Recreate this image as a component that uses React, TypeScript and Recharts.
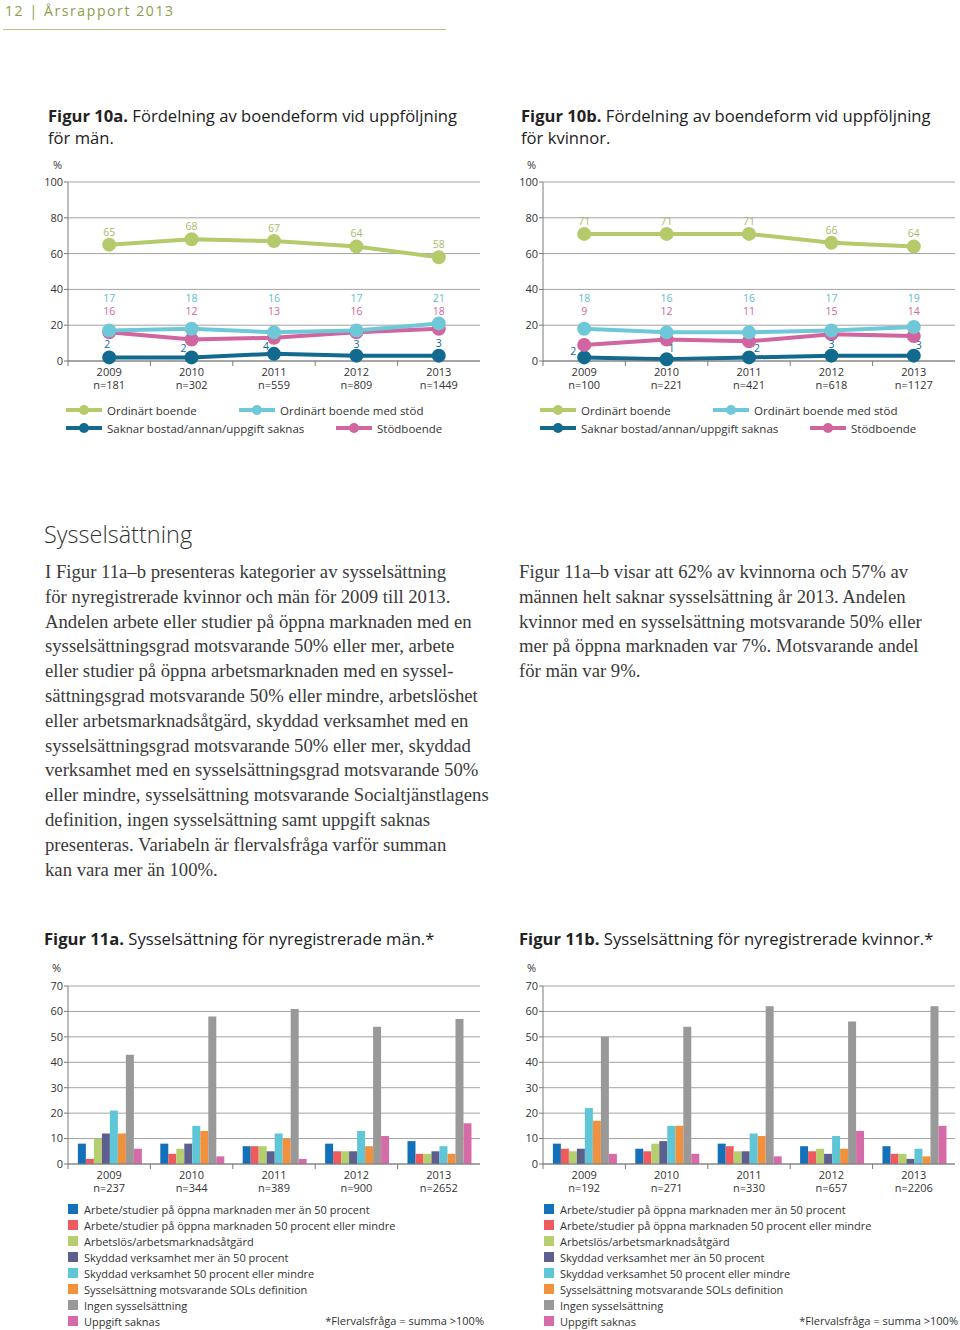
import React from 'react';
import { LineChart, Line, BarChart, Bar, XAxis, YAxis, CartesianGrid, LabelList } from 'recharts';

// ---- data ----
const years = ['2009', '2010', '2011', '2012', '2013'];

// Figur 10 – boendeform
const menLineN = [181, 302, 559, 809, 1449];
const womenLineN = [100, 221, 421, 618, 1127];

const menOrdinart = [65, 68, 67, 64, 58];
const menOrdinartStod = [17, 18, 16, 17, 21];
const menStodboende = [16, 12, 13, 16, 18];
const menSaknar = [2, 2, 4, 3, 3];

const womenOrdinart = [71, 71, 71, 66, 64];
const womenOrdinartStod = [18, 16, 16, 17, 19];
const womenStodboende = [9, 12, 11, 15, 14];
const womenSaknar = [2, 1, 2, 3, 3];

const boendeTicks = [0, 20, 40, 60, 80, 100];

// Figur 11 – sysselsättning
const menBarN = [237, 344, 389, 900, 2652];
const womenBarN = [192, 271, 330, 657, 2206];

const menArbMer = [8, 8, 7, 8, 9];
const menArbMindre = [2, 4, 7, 5, 4];
const menArbetslos = [10, 6, 7, 5, 4];
const menSkyddMer = [12, 8, 5, 5, 5];
const menSkyddMindre = [21, 15, 12, 13, 7];
const menSol = [12, 13, 10, 7, 4];
const menIngen = [43, 58, 61, 54, 57];
const menSaknas = [6, 3, 2, 11, 16];

const womenArbMer = [8, 6, 8, 7, 7];
const womenArbMindre = [6, 5, 7, 5, 4];
const womenArbetslos = [5, 8, 5, 6, 4];
const womenSkyddMer = [6, 9, 5, 4, 2];
const womenSkyddMindre = [22, 15, 12, 11, 6];
const womenSol = [17, 15, 11, 6, 3];
const womenIngen = [50, 54, 62, 56, 62];
const womenSaknas = [4, 4, 3, 13, 15];

const sysTicks = [0, 10, 20, 30, 40, 50, 60, 70];

const boendeLabels = ['Ordinärt boende', 'Ordinärt boende med stöd', 'Saknar bostad/annan/uppgift saknas', 'Stödboende'];
const sysLabels = [
  'Arbete/studier på öppna marknaden mer än 50 procent',
  'Arbete/studier på öppna marknaden 50 procent eller mindre',
  'Arbetslös/arbetsmarknadsåtgärd',
  'Skyddad verksamhet mer än 50 procent',
  'Skyddad verksamhet 50 procent eller mindre',
  'Sysselsättning motsvarande SOLs definition',
  'Ingen sysselsättning',
  'Uppgift saknas',
];

// ---- styles ----
const C = {
  green: '#b5ca6b',
  greenLabel: '#a9b96c',
  cyan: '#6fc8d8',
  cyanLabel: '#5dbdcd',
  blue: '#136a8f',
  pink: '#d0659f',
  grid: '#a3a3a3',
  axis: '#7a7a7a',
  text: '#333',
};
const barColors = ['#1470b8', '#ef5a5e', '#b6cf6e', '#5d5f8f', '#5fc6d7', '#f1913d', '#999999', '#d56ba7'];
const sans = '"Open Sans", "Noto Sans", sans-serif';
const serif = '"Liberation Serif", serif';

const LINE_TOP = 170;
const BAR_TOP = 975;
const CYAN_LABEL_Y = 302 - LINE_TOP;
const PINK_LABEL_Y = 315 - LINE_TOP;
const menDarkOffsets = [[-2, -13], [-8, -9], [-8, -8], [0, -12], [0, -13]];
const womenDarkOffsets = [[-11, -6], [5, -11], [8, -9], [0, -12], [5, -11]];

const boendeData = (ord: number[], ordStod: number[], stod: number[], saknar: number[]) =>
  years.map((year, i) => ({ year, ord: ord[i], ordStod: ordStod[i], stod: stod[i], saknar: saknar[i] }));

const sysData = (series: number[][]) =>
  years.map((year, i) => {
    const row: any = { year };
    series.forEach((s, k) => (row['s' + k] = s[i]));
    return row;
  });

const YearTick = (props: any) => {
  const { x, y, payload, index, nList, band } = props;
  return (
    <g>
      <line x1={x - band / 2} x2={x - band / 2} y1={y} y2={y + 5} stroke={C.axis} />
      <text x={x} y={y + 15} textAnchor="middle" fontSize={11} fill={C.text} fontFamily={sans}>
        {payload.value}
      </text>
      <text x={x} y={y + 28} textAnchor="middle" fontSize={11} fill={C.text} fontFamily={sans}>
        n={nList[index]}
      </text>
    </g>
  );
};

const px = (p: any) => (p.x ?? p.viewBox?.x) as number;
const py = (p: any) => (p.y ?? p.viewBox?.y) as number;

function BoendeChart({ data, nList, darkOffsets }: { data: any[]; nList: number[]; darkOffsets: number[][] }) {
  const band = 412 / 5;
  return (
    <LineChart width={455} height={230} data={data} margin={{ top: 12, right: 5, bottom: 0, left: 0 }}>
      <CartesianGrid vertical={false} stroke={C.grid} />
      <XAxis
        dataKey="year"
        height={39}
        tickLine={false}
        tickSize={0}
        tickMargin={0}
        interval={0}
        axisLine={{ stroke: C.axis }}
        padding={{ left: band / 2, right: band / 2 }}
        tick={<YearTick band={band} nList={nList} />}
      />
      <YAxis
        domain={[0, 100]}
        ticks={boendeTicks}
        width={38}
        tickSize={4}
        tickMargin={1}
        axisLine={{ stroke: C.axis }}
        tickLine={{ stroke: C.axis }}
        tick={{ fontSize: 11, fill: C.text, fontFamily: sans }}
      />
      <Line dataKey="saknar" stroke={C.blue} strokeWidth={4} dot={{ r: 5, fill: C.blue, stroke: C.blue }} isAnimationActive={false}>
        <LabelList
          dataKey="saknar"
          content={(p: any) => (
            <text x={px(p) + darkOffsets[p.index][0]} y={py(p) + darkOffsets[p.index][1] + 4} textAnchor="middle" fontSize={10.5} fill={C.blue} fontFamily={sans}>
              {p.value}
            </text>
          )}
        />
      </Line>
      <Line dataKey="stod" stroke={C.pink} strokeWidth={4} dot={{ r: 5, fill: C.pink, stroke: C.pink }} isAnimationActive={false}>
        <LabelList
          dataKey="stod"
          content={(p: any) => (
            <text x={px(p)} y={PINK_LABEL_Y} textAnchor="middle" fontSize={10.5} fill={C.pink} fontFamily={sans}>
              {p.value}
            </text>
          )}
        />
      </Line>
      <Line dataKey="ordStod" stroke={C.cyan} strokeWidth={4} dot={{ r: 5, fill: C.cyan, stroke: C.cyan }} isAnimationActive={false}>
        <LabelList
          dataKey="ordStod"
          content={(p: any) => (
            <text x={px(p)} y={CYAN_LABEL_Y} textAnchor="middle" fontSize={10.5} fill={C.cyanLabel} fontFamily={sans}>
              {p.value}
            </text>
          )}
        />
      </Line>
      <Line dataKey="ord" stroke={C.green} strokeWidth={4} dot={{ r: 5, fill: C.green, stroke: C.green }} isAnimationActive={false}>
        <LabelList
          dataKey="ord"
          content={(p: any) => (
            <text x={px(p)} y={py(p) - 9} textAnchor="middle" fontSize={10.5} fill={C.greenLabel} fontFamily={sans}>
              {p.value}
            </text>
          )}
        />
      </Line>
    </LineChart>
  );
}

function SysChart({ data, nList }: { data: any[]; nList: number[] }) {
  const band = 412 / 5;
  return (
    <BarChart width={455} height={225} data={data} margin={{ top: 11, right: 5, bottom: 0, left: 0 }} barGap={0} barCategoryGap="12%">
      <CartesianGrid vertical={false} stroke={C.grid} />
      <XAxis
        dataKey="year"
        height={36}
        tickLine={false}
        tickSize={0}
        tickMargin={0}
        interval={0}
        axisLine={{ stroke: C.axis }}
        tick={<YearTick band={band} nList={nList} />}
      />
      <YAxis
        domain={[0, 70]}
        ticks={sysTicks}
        width={38}
        tickSize={4}
        tickMargin={1}
        axisLine={{ stroke: C.axis }}
        tickLine={{ stroke: C.axis }}
        tick={{ fontSize: 11, fill: C.text, fontFamily: sans }}
      />
      {barColors.map((c, k) => (
        <Bar key={k} dataKey={'s' + k} fill={c} isAnimationActive={false} />
      ))}
    </BarChart>
  );
}

const abs = (left: number, top: number, extra: React.CSSProperties = {}): React.CSSProperties => ({
  position: 'absolute',
  left,
  top,
  whiteSpace: 'nowrap',
  ...extra,
});

function LineLegend({ left }: { left: number }) {
  const items = [
    { label: boendeLabels[0], color: C.green, x: 0, y: 0 },
    { label: boendeLabels[1], color: C.cyan, x: 173, y: 0 },
    { label: boendeLabels[2], color: C.blue, x: 0, y: 18 },
    { label: boendeLabels[3], color: C.pink, x: 270, y: 18 },
  ];
  return (
    <>
      {items.map((it) => (
        <div key={it.label} style={abs(left + it.x, 402 + it.y, { display: 'flex', alignItems: 'center', height: 16 })}>
          <svg width={38} height={12} style={{ marginRight: 4 }}>
            <line x1={1} x2={37} y1={6} y2={6} stroke={it.color} strokeWidth={4} />
            <circle cx={19} cy={6} r={5} fill={it.color} />
          </svg>
          <span style={{ fontFamily: sans, fontSize: 11.5, color: C.text }}>{it.label}</span>
        </div>
      ))}
    </>
  );
}

function BarLegend({ left, right }: { left: number; right: number }) {
  return (
    <>
      {sysLabels.map((l, k) => (
        <div key={l} style={abs(left, 1201 + k * 16, { display: 'flex', alignItems: 'center', height: 16 })}>
          <span style={{ width: 10, height: 10, background: barColors[k], marginRight: 6, display: 'inline-block' }} />
          <span style={{ fontFamily: sans, fontSize: 11, color: C.text }}>{l}</span>
        </div>
      ))}
      <div style={abs(right - 200, 1313, { width: 200, textAlign: 'right', fontFamily: sans, fontSize: 11, color: C.text, lineHeight: '16px' })}>
        *Flervalsfråga = summa &gt;100%
      </div>
    </>
  );
}

const leftText = [
  'I Figur 11a–b presenteras kategorier av sysselsättning',
  'för nyregistrerade kvinnor och män för 2009 till 2013.',
  'Andelen arbete eller studier på öppna marknaden med en',
  'sysselsättningsgrad motsvarande 50% eller mer, arbete',
  'eller studier på öppna arbetsmarknaden med en syssel-',
  'sättningsgrad motsvarande 50% eller mindre, arbetslöshet',
  'eller arbetsmarknadsåtgärd, skyddad verksamhet med en',
  'sysselsättningsgrad motsvarande 50% eller mer, skyddad',
  'verksamhet med en sysselsättningsgrad motsvarande 50%',
  'eller mindre, sysselsättning motsvarande Socialtjänstlagens',
  'definition, ingen sysselsättning samt uppgift saknas',
  'presenteras. Variabeln är flervalsfråga varför summan',
  'kan vara mer än 100%.',
];
const rightText = [
  'Figur 11a–b visar att 62% av kvinnorna och 57% av',
  'männen helt saknar sysselsättning år 2013. Andelen',
  'kvinnor med en sysselsättning motsvarande 50% eller',
  'mer på öppna marknaden var 7%. Motsvarande andel',
  'för män var 9%.',
];

const bodyStyle: React.CSSProperties = { fontFamily: serif, fontSize: 18.7, lineHeight: '24.8px', color: '#3a3a3a' };
const titleStyle: React.CSSProperties = { fontFamily: sans, fontSize: 16.6, lineHeight: '21.5px', color: '#222' };

export default function App() {
  const menBoende = boendeData(menOrdinart, menOrdinartStod, menStodboende, menSaknar);
  const womenBoende = boendeData(womenOrdinart, womenOrdinartStod, womenStodboende, womenSaknar);
  const menSys = sysData([menArbMer, menArbMindre, menArbetslos, menSkyddMer, menSkyddMindre, menSol, menIngen, menSaknas]);
  const womenSys = sysData([womenArbMer, womenArbMindre, womenArbetslos, womenSkyddMer, womenSkyddMindre, womenSol, womenIngen, womenSaknas]);

  return (
    <div style={{ position: 'absolute', left: 0, top: 0, width: 960, height: 1330, overflow: 'hidden', background: '#fff' }}>
      {/* page header */}
      <div style={abs(5, 1, { fontFamily: sans, fontSize: 14, letterSpacing: 1.6, color: '#8c9e4c' })}>12 | Årsrapport 2013</div>
      <div style={{ position: 'absolute', left: 3, top: 29, width: 443, height: 1, background: '#b8c67e' }} />

      {/* Figur 10 */}
      <div style={abs(48, 105, titleStyle)}>
        <b>Figur 10a.</b> Fördelning av boendeform vid uppföljning
        <br />
        för män.
      </div>
      <div style={abs(521, 105, titleStyle)}>
        <b>Figur 10b.</b> Fördelning av boendeform vid uppföljning
        <br />
        för kvinnor.
      </div>
      <div style={abs(53, 157, { fontFamily: sans, fontSize: 11, color: C.text })}>%</div>
      <div style={abs(527, 157, { fontFamily: sans, fontSize: 11, color: C.text })}>%</div>
      <div style={abs(30, LINE_TOP)}>
        <BoendeChart data={menBoende} nList={menLineN} darkOffsets={menDarkOffsets} />
      </div>
      <div style={abs(505, LINE_TOP)}>
        <BoendeChart data={womenBoende} nList={womenLineN} darkOffsets={womenDarkOffsets} />
      </div>
      <LineLegend left={65} />
      <LineLegend left={539} />

      {/* Sysselsättning text */}
      <div style={abs(44, 516, { fontFamily: sans, fontSize: 23.5, fontWeight: 300, color: '#333', lineHeight: '36px' })}>Sysselsättning</div>
      <div style={abs(45, 560, bodyStyle)}>
        {leftText.map((l) => (
          <div key={l}>{l}</div>
        ))}
      </div>
      <div style={abs(519, 560, bodyStyle)}>
        {rightText.map((l) => (
          <div key={l}>{l}</div>
        ))}
      </div>

      {/* Figur 11 */}
      <div style={abs(44, 928, titleStyle)}>
        <b>Figur 11a.</b> Sysselsättning för nyregistrerade män.*
      </div>
      <div style={abs(519, 928, titleStyle)}>
        <b>Figur 11b.</b> Sysselsättning för nyregistrerade kvinnor.*
      </div>
      <div style={abs(52, 960, { fontFamily: sans, fontSize: 11, color: C.text })}>%</div>
      <div style={abs(527, 960, { fontFamily: sans, fontSize: 11, color: C.text })}>%</div>
      <div style={abs(30, BAR_TOP)}>
        <SysChart data={menSys} nList={menBarN} />
      </div>
      <div style={abs(505, BAR_TOP)}>
        <SysChart data={womenSys} nList={womenBarN} />
      </div>
      <BarLegend left={68} right={484} />
      <BarLegend left={544} right={958} />
    </div>
  );
}
